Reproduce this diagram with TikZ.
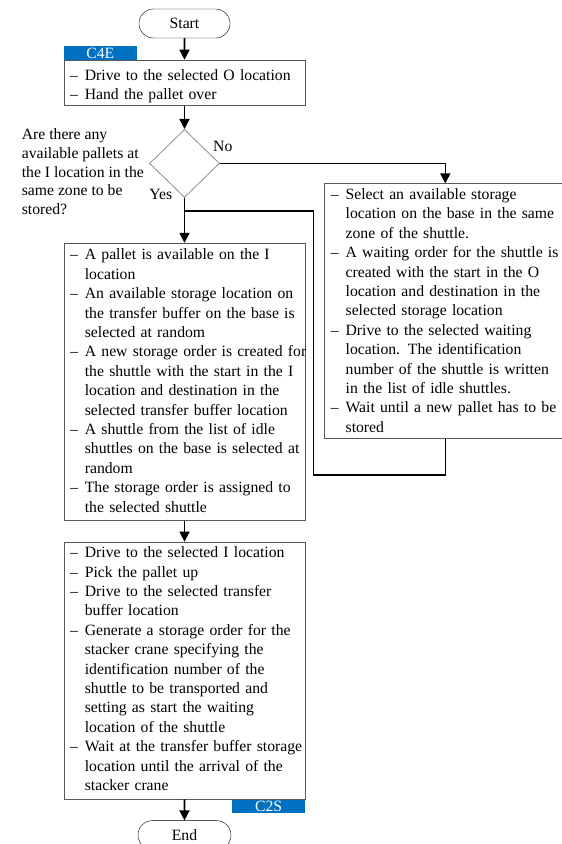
\documentclass[tikz,border=0pt]{standalone}
\usepackage{fontspec}
\setmainfont{Liberation Serif}
\usetikzlibrary{arrows.meta,positioning,shapes.geometric,shapes.misc,calc}
\definecolor{tagblue}{HTML}{0070C0}
\newcommand{\dsh}{\textendash}

\begin{document}
\begin{tikzpicture}[x=1pt,y=1pt,
  every node/.style = {font=\fontsize{15.7}{19.4}\selectfont},
  term/.style = {draw,rounded rectangle,minimum width=91pt,minimum height=29pt,inner sep=0pt},
  box/.style = {draw=black!65,line width=0.8pt,inner xsep=6pt,inner ysep=0pt,text width=229pt},
  dec/.style = {draw=black!45,line width=0.8pt,diamond,minimum width=70pt,minimum height=68pt,inner sep=0pt},
  tag/.style = {fill=tagblue,text=white,minimum width=73pt,minimum height=13.5pt,inner sep=0pt,text height=10.5pt,text depth=0pt},
  flow/.style = {line width=1.6pt,-{Triangle[width=10pt,length=10pt]}},
  line/.style = {line width=1.6pt}]

\useasboundingbox (0,0) rectangle (562,-844);

\node[term] (start) at (184.5,-23.5) {Start};
\node[box,text height=20pt,text depth=25.5pt] (drive) [below=21.5pt of start] {\begin{tabular}[t]{@{}l@{\hspace{7pt}}l@{}}
\dsh & Drive to the selected O location\\
\dsh & Hand the pallet over
\end{tabular}};
\node[tag] (c4e) [above right=0pt and 0pt of drive.north west] {C4E};
\node[dec] (ask) [below=23pt of drive] {};
\node[inner sep=0pt] (q) [left=5pt of ask.west,yshift=-10pt] {\def\arraystretch{0.97}\begin{tabular}{@{}l@{}}
Are there any\\available pallets at\\the I location in the\\same zone to be\\stored?
\end{tabular}};

\node[box,text height=16.6pt,text depth=260.4pt] (pick) [below=45pt of ask] {\begin{tabular}[t]{@{}l@{\hspace{7pt}}l@{}}
\dsh & A pallet is available on the I\\
     & location\\
\dsh & An available storage location on\\
     & the transfer buffer on the base is\\
     & selected at random\\
\dsh & A new storage order is created for\\
     & the shuttle with the start in the I\\
     & location and destination in the\\
     & selected transfer buffer location\\
\dsh & A shuttle from the list of idle\\
     & shuttles on the base is selected at\\
     & random\\
\dsh & The storage order is assigned to\\
     & the selected shuttle
\end{tabular}};

\node[box,text height=15.6pt,text depth=239.4pt] (wait) [below right=20pt and 104.5pt of ask.east] {\begin{tabular}[t]{@{}l@{\hspace{7pt}}l@{}}
\dsh & Select an available storage\\
     & location on the base in the same\\
     & zone of the shuttle.\\
\dsh & A waiting order for the shuttle is\\
     & created with the start in the O\\
     & location and destination in the\\
     & selected storage location\\
\dsh & Drive to the selected waiting\\
     & location. The identification\\
     & number of the shuttle is written\\
     & in the list of idle shuttles.\\
\dsh & Wait until a new pallet has to be\\
     & stored
\end{tabular}};

\node[box,text height=15.6pt,text depth=241.4pt] (crane) [below=21pt of pick] {\begin{tabular}[t]{@{}l@{\hspace{7pt}}l@{}}
\dsh & Drive to the selected I location\\
\dsh & Pick the pallet up\\
\dsh & Drive to the selected transfer\\
     & buffer location\\
\dsh & Generate a storage order for the\\
     & stacker crane specifying the\\
     & identification number of the\\
     & shuttle to be transported and\\
     & setting as start the waiting\\
     & location of the shuttle\\
\dsh & Wait at the transfer buffer storage\\
     & location until the arrival of the\\
     & stacker crane
\end{tabular}};
\node[tag] (c2s) [below left=0pt and 0pt of crane.south east] {C2S};
\node[term,minimum width=93pt] (end) [below=21pt of crane] {End};

\coordinate (join) at ([yshift=-13pt]ask.south);
\coordinate (back) at ([yshift=-36pt]wait.south);
\coordinate (bend) at ($(pick.east |- back)+(8pt,0)$);

\draw[flow] (start) -- (drive);
\draw[flow] (drive) -- (ask);
\draw[flow] (ask) -- node[pos=0,anchor=south east,inner sep=0pt,xshift=-11.5pt,yshift=-3pt] {Yes} (pick);
\draw[flow] (ask.east) -| node[pos=0,anchor=south west,inner sep=0pt,xshift=-7.5pt,yshift=11pt] {No} (wait.north);
\draw[line] (wait.south) -- (back) -- (bend) |- (join);
\draw[flow] (pick) -- (crane);
\draw[flow] (crane) -- (end);

\end{tikzpicture}
\end{document}
